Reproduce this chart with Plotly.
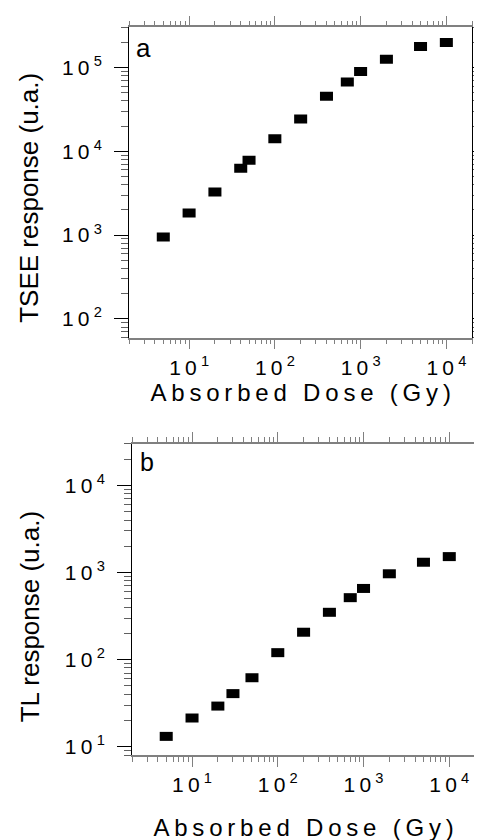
import plotly.graph_objects as go
import math

# ---- data ----
dose_a = [5, 10, 20, 40, 50, 100, 200, 400, 700, 1000, 2000, 5000, 10000]
tsee = [950, 1840, 3270, 6280, 7810, 14100, 24300, 45200, 66800, 89600, 125600, 177800, 198600]

dose_b = [5, 10, 20, 30, 50, 100, 200, 400, 700, 1000, 2000, 5000, 10000]
tl = [13.1, 21.3, 29.2, 40.6, 61.8, 120, 206, 349, 514, 656, 967, 1312, 1523]

x_tickvals = [10, 100, 1000, 10000]
x_ticktext = ["1\u20090\u2009<sup>1</sup>", "1\u20090\u2009<sup>2</sup>", "1\u20090\u2009<sup>3</sup>", "1\u20090\u2009<sup>4</sup>"]
ya_tickvals = [100, 1000, 10000, 100000]
ya_ticktext = ["1\u20090\u2009<sup>2</sup>", "1\u20090\u2009<sup>3</sup>", "1\u20090\u2009<sup>4</sup>", "1\u20090\u2009<sup>5</sup>"]
yb_tickvals = [10, 100, 1000, 10000]
yb_ticktext = ["1\u20090\u2009<sup>1</sup>", "1\u20090\u2009<sup>2</sup>", "1\u20090\u2009<sup>3</sup>", "1\u20090\u2009<sup>4</sup>"]

x_title = "\u2009".join("Absorbed Dose (Gy)")
ya_title = "TSEE response (u.a.)"
yb_title = "TL response (u.a.)"

W, H = 482, 840
FONT = "Liberation Sans, Arial, Helvetica, sans-serif"

def px_x(p):
    return p / W

def px_y(p):
    return 1 - p / H

marker = dict(symbol="line-ew", size=9.3, color="black", line=dict(width=9, color="black"))

fig = go.Figure()
fig.add_trace(go.Scatter(x=dose_a, y=tsee, mode="markers", marker=marker,
                         xaxis="x", yaxis="y", showlegend=False))
fig.add_trace(go.Scatter(x=dose_b, y=tl, mode="markers", marker=marker,
                         xaxis="x2", yaxis="y2", showlegend=False))

def xaxis(domain, anchor, standoff):
    return dict(
        domain=domain, anchor=anchor, type="log",
        range=[math.log10(2), math.log10(20000)],
        tickmode="array", tickvals=x_tickvals, ticktext=x_ticktext,
        ticks="outside", ticklen=10, tickwidth=1.2, tickcolor="#808080",
        linecolor="#808080", linewidth=1.8, mirror="ticks",
        showgrid=False, zeroline=False,
        tickfont=dict(family=FONT, size=21, color="black"),
        ticklabelstandoff=0,
        minor=dict(ticks="outside", ticklen=5, tickwidth=1.2, tickcolor="#808080",
                   dtick="D1", showgrid=False),
        title=dict(text=x_title, font=dict(family=FONT, size=24, color="black"),
                   standoff=standoff),
    )

def yaxis(domain, anchor, rng, tv, tt):
    return dict(
        domain=domain, anchor=anchor, type="log", range=rng,
        tickmode="array", tickvals=tv, ticktext=tt,
        ticks="outside", ticklen=14, tickwidth=1.2, tickcolor="black",
        linecolor="black", linewidth=1.2, mirror="ticks",
        showgrid=False, zeroline=False,
        tickfont=dict(family=FONT, size=21, color="black"),
        ticklabelstandoff=8,
        minor=dict(ticks="outside", ticklen=7, tickwidth=1.2, tickcolor="#606060",
                   dtick="D1", showgrid=False),
    )

fig.update_layout(
    width=W, height=H,
    margin=dict(l=0, r=0, t=0, b=0),
    paper_bgcolor="white", plot_bgcolor="white",
    font=dict(family=FONT, color="black"),
    xaxis=xaxis([px_x(124), px_x(475)], "y", 0),
    yaxis=yaxis([px_y(330.7), px_y(19.5)], "x",
                [math.log10(60), math.log10(3e5)], ya_tickvals, ya_ticktext),
    xaxis2=xaxis([px_x(127), px_x(478)], "y2", 24),
    yaxis2=yaxis([px_y(749.7), px_y(437.5)], "x2",
                 [math.log10(8), math.log10(3e4)], yb_tickvals, yb_ticktext),
    annotations=[
        dict(text=ya_title, x=px_x(22), y=px_y(190), xref="paper", yref="paper",
             xanchor="center", yanchor="middle", textangle=-90, showarrow=False,
             font=dict(family=FONT, size=26, color="black")),
        dict(text=yb_title, x=px_x(22), y=px_y(611), xref="paper", yref="paper",
             xanchor="center", yanchor="middle", textangle=-90, showarrow=False,
             font=dict(family=FONT, size=26, color="black")),
        dict(text="a", x=px_x(129), y=px_y(40), xref="paper", yref="paper",
             xanchor="left", yanchor="middle", showarrow=False,
             font=dict(family=FONT, size=26, color="black")),
        dict(text="b", x=px_x(133), y=px_y(456), xref="paper", yref="paper",
             xanchor="left", yanchor="middle", showarrow=False,
             font=dict(family=FONT, size=25, color="black")),
    ],
)

fig.write_html("out.html")
